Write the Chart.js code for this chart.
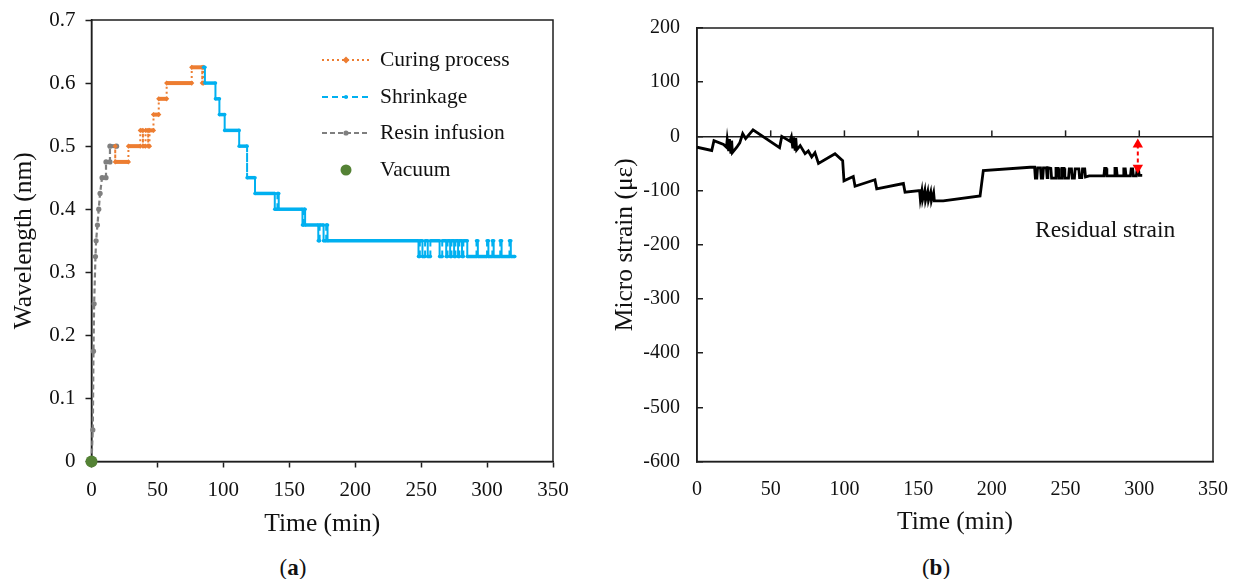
<!DOCTYPE html>
<html>
<head>
<meta charset="utf-8">
<script src="https://cdn.jsdelivr.net/npm/chart.js@4.4.1/dist/chart.umd.min.js"></script>
<style>
  html, body { margin: 0; padding: 0; background: #fff; }
  body { width: 1238px; height: 579px; position: relative; overflow: hidden;
         font-family: 'Liberation Serif', serif; color: #111; }
  .box { position: absolute; top: 0; height: 545px; }
  #boxA { left: 0; width: 580px; }
  #boxB { left: 600px; width: 638px; }
  .caption { position: absolute; top: 555px; font-size: 23px; transform: translateX(-50%); }
  #note { position: absolute; left: 1035px; top: 216px; font-size: 23.5px; }
</style>
</head>
<body>
<div class="box" id="boxA"><canvas id="chartA"></canvas></div>
<div class="box" id="boxB"><canvas id="chartB"></canvas></div>
<div class="caption" style="left:293px">(<b>a</b>)</div>
<div class="caption" style="left:936px">(<b>b</b>)</div>
<div id="note">Residual strain</div>

<script>
// (a) wavelength shift during the process
const timeTicks = [0, 50, 100, 150, 200, 250, 300, 350];
const wavelengthTicks = [0, 0.1, 0.2, 0.3, 0.4, 0.5, 0.6, 0.7];

const vacuumTime = [0];
const vacuumValue = [0];

const resinTime  = [0, 1, 1.5, 2, 3, 3.5, 4.5, 5.5, 6.5, 8, 11, 11, 14, 14, 19];
const resinValue = [0, 0.05, 0.175, 0.25, 0.325, 0.35, 0.375, 0.4, 0.425, 0.45, 0.45, 0.475, 0.475, 0.5, 0.5];

const curingTime  = [18, 18, 28, 28, 37, 37, 39, 39, 41, 41, 43, 43, 44, 44, 47, 47, 51, 51, 57, 57, 76, 76, 84, 84, 85, 85];
const curingValue = [0.5, 0.475, 0.475, 0.5, 0.5, 0.525, 0.525, 0.5, 0.5, 0.525, 0.525, 0.5, 0.5, 0.525, 0.525, 0.55,
                     0.55, 0.575, 0.575, 0.6, 0.6, 0.625, 0.625, 0.6, 0.6, 0.625];

const shrinkTime = [85, 86, 86, 94, 94, 97, 97, 101, 101, 112, 112, 118, 118, 124, 124, 139, 139, 141, 141, 142,
                    142, 160, 160, 161, 161, 162, 162, 172, 172, 173, 173, 176, 176, 178, 178, 179, 179, 248,
                    248, 249, 249, 251, 251, 253, 253, 255, 255, 257, 257, 264, 264, 266, 266, 269, 269, 270, 270,
                    272, 272, 273, 273, 275, 275, 276, 276, 278, 278, 279, 279, 281, 281, 282, 282, 285, 285,
                    292, 292, 293, 293, 300, 300, 301, 301, 304, 304, 305, 305, 310, 310, 311, 311, 317, 317,
                    318, 318, 321];
const shrinkValue = [0.625, 0.625, 0.6, 0.6, 0.575, 0.575, 0.55, 0.55, 0.525, 0.525, 0.5, 0.5, 0.45, 0.45, 0.425,
                     0.425, 0.4, 0.4, 0.425, 0.425, 0.4, 0.4, 0.375, 0.375, 0.4, 0.4, 0.375, 0.375, 0.35, 0.35,
                     0.375, 0.375, 0.35, 0.35, 0.375, 0.375, 0.35, 0.35,
                     0.325, 0.325, 0.35, 0.35, 0.325, 0.325, 0.35, 0.35, 0.325, 0.325, 0.35, 0.35, 0.325, 0.325,
                     0.35, 0.35, 0.325, 0.325, 0.35, 0.35, 0.325, 0.325, 0.35, 0.35, 0.325, 0.325, 0.35, 0.35,
                     0.325, 0.325, 0.35, 0.35, 0.325, 0.325, 0.35, 0.35, 0.325, 0.325, 0.35, 0.35, 0.325, 0.325,
                     0.35, 0.35, 0.325, 0.325, 0.35, 0.35, 0.325, 0.325, 0.35, 0.35, 0.325, 0.325, 0.35, 0.35,
                     0.325, 0.325];

// (b) micro strain
const strainTicks = [200, 100, 0, -100, -200, -300, -400, -500, -600];
const strainTime = [0, 10, 11.5, 18, 20, 20.5, 21.5, 22, 23, 23.5, 24, 27, 29, 31, 33, 38, 56, 57.5, 63, 64,
                    65, 65.5, 66.5, 67, 67.6, 70, 73.3, 75.5, 77.8, 80, 82.4, 93.6, 98.8, 99.7, 106, 107.2,
                    120.7, 121.9, 140, 141.1, 151, 151.5, 152.5, 153, 154.5, 155, 156.5, 157, 158.5, 159,
                    160.5, 161, 167, 192, 194.2, 226,
                    229, 229.5, 230.5, 231, 233, 233.5, 234.5, 235, 237, 237.5, 238, 240, 240.5, 243, 243.5,
                    245, 245.5, 247, 247.5, 249, 249.5, 252, 252.5, 254, 254.5, 256, 256.5, 259, 259.5, 261,
                    261.5, 263, 263.5, 266, 276, 276.5, 277.5, 278, 283, 283.5, 284.5, 285, 289, 289.5, 290.5,
                    291, 294, 294.5, 295.5, 296, 298, 298.5, 299.5, 300, 302];
const strainValue = [-20, -26, -8, -15, -20, -6, -27, -5, -32, -8, -30, -20, -12, 5, -4, 12, -21, 0, -9, -1,
                     -22, -2, -24, -3, -25, -17, -32, -27, -38, -30, -50, -32, -45, -82, -74, -92,
                     -80, -97, -87, -103, -100, -116, -101, -117, -100, -118, -102, -118, -103, -119,
                     -104, -119, -119, -110, -63, -57,
                     -57, -77, -77, -58, -58, -77, -77, -58, -58, -76, -58, -59, -77, -77, -59,
                     -59, -77, -77, -59, -59, -77, -77, -60, -60, -77, -77, -60, -60, -76, -76,
                     -60, -60, -75, -73, -73, -59, -59, -73, -73, -59, -59, -73, -73, -60, -60,
                     -73, -73, -60, -60, -73, -73, -62, -62, -72, -72];
const arrowTime = [299, 299];
const arrowValue = [-15, -58];

const axisColor = '#1e1e1e';
const textColor = '#111';
Chart.defaults.font.family = "'Liberation Serif', 'Times New Roman', serif";
Chart.defaults.color = textColor;

function toPoints(xs, ys) {
    return xs.map((x, i) => ({ x: x, y: ys[i] }));
}

// flat parts of the step lines are solid and thick, the jumps keep the dash
function stepSegment(dash, flatWidth, jumpWidth) {
    const flat = c => c.p0.parsed.y === c.p1.parsed.y;
    return {
        borderDash: c => flat(c) ? [] : dash,
        borderWidth: c => flat(c) ? flatWidth : jumpWidth
    };
}

// fixed axis sizes, without the extra label padding Chart.js adds round the plot
function fixX(height) {
    return s => { s.height = height; s.paddingLeft = 0; s.paddingRight = 0; };
}
function fixY(width) {
    return s => { s.width = width; s.paddingTop = 0; s.paddingBottom = 0; };
}

// box around the plot area
const framePlugin = {
    id: 'frame',
    beforeDatasetsDraw(chart) {
        const { ctx, chartArea: a } = chart;
        ctx.save();
        ctx.strokeStyle = axisColor;
        ctx.lineWidth = 1.5;
        ctx.strokeRect(a.left, a.top, a.right - a.left, a.bottom - a.top);
        ctx.restore();
    }
};

// legend of chart (a), inside the plot
const stageLegend = {
    id: 'stageLegend',
    afterDraw(chart) {
        const ctx = chart.ctx;
        const x0 = 322, x1 = 370, textX = 380;
        const rows = [60, 97, 133, 170];
        ctx.save();
        chart.data.datasets.forEach((ds, i) => {
            const y = rows[i];
            if (ds.legendDash) {
                ctx.setLineDash(ds.legendDash);
                ctx.strokeStyle = ds.borderColor;
                ctx.lineWidth = 2;
                ctx.beginPath();
                ctx.moveTo(x0, y);
                ctx.lineTo(x1, y);
                ctx.stroke();
            }
            ctx.setLineDash([]);
            ctx.fillStyle = ds.pointBackgroundColor;
            ctx.strokeStyle = ds.pointBackgroundColor;
            Chart.helpers.drawPoint(ctx, {
                pointStyle: ds.pointStyle, rotation: 0,
                radius: ds.legendRadius, borderWidth: 0
            }, (x0 + x1) / 2, y);
            ctx.fillStyle = textColor;
            ctx.font = "21.5px 'Liberation Serif'";
            ctx.textBaseline = 'middle';
            ctx.textAlign = 'left';
            ctx.fillText(ds.label, textX, y);
        });
        ctx.restore();
    }
};

// small upward ticks on the zero line of chart (b)
const zeroTicks = {
    id: 'zeroTicks',
    afterDatasetsDraw(chart) {
        const { ctx, scales: { x, y } } = chart;
        const y0 = y.getPixelForValue(0);
        ctx.save();
        ctx.strokeStyle = axisColor;
        ctx.lineWidth = 1.5;
        x.ticks.forEach(t => {
            if (t.value <= x.min || t.value >= x.max) return;
            const px = x.getPixelForValue(t.value);
            ctx.beginPath();
            ctx.moveTo(px, y0);
            ctx.lineTo(px, y0 - 6);
            ctx.stroke();
        });
        ctx.restore();
    }
};

new Chart(document.getElementById('chartA'), {
    type: 'line',
    data: {
        datasets: [
            {
                label: 'Curing process',
                data: toPoints(curingTime, curingValue),
                borderColor: '#ED7D31',
                pointBackgroundColor: '#ED7D31',
                pointBorderWidth: 0,
                pointStyle: 'rectRot',
                pointRadius: 2.6,
                segment: stepSegment([2, 3], 4, 2),
                legendDash: [2, 3], legendRadius: 3.5,
                order: 2, clip: false
            },
            {
                label: 'Shrinkage',
                data: toPoints(shrinkTime, shrinkValue),
                borderColor: '#00B0F0',
                pointBackgroundColor: '#00B0F0',
                pointBorderWidth: 0,
                pointStyle: 'circle',
                pointRadius: 1.8,
                segment: stepSegment([6, 4], 3.5, 2),
                legendDash: [6, 4], legendRadius: 2,
                order: 1, clip: false
            },
            {
                label: 'Resin infusion',
                data: toPoints(resinTime, resinValue),
                borderColor: '#7F7F7F',
                pointBackgroundColor: '#7F7F7F',
                pointBorderWidth: 0,
                pointStyle: 'circle',
                pointRadius: 2.6,
                segment: stepSegment([5, 3], 4, 2.2),
                legendDash: [5, 3], legendRadius: 2.6,
                order: 3, clip: false
            },
            {
                label: 'Vacuum',
                data: toPoints(vacuumTime, vacuumValue),
                showLine: false,
                borderColor: '#548235',
                pointBackgroundColor: '#548235',
                pointBorderWidth: 0,
                pointStyle: 'circle',
                pointRadius: 6,
                legendRadius: 5.5,
                order: 0, clip: false
            }
        ]
    },
    options: {
        responsive: true,
        maintainAspectRatio: false,
        animation: false,
        events: [],
        layout: { padding: { left: 0, top: 20, right: 27, bottom: 0 } },
        plugins: { legend: { display: false }, tooltip: { enabled: false } },
        scales: {
            x: {
                type: 'linear', min: 0, max: 350,
                afterBuildTicks: s => { s.ticks = timeTicks.map(v => ({ value: v })); },
                afterFit: fixX(83.5),
                ticks: { padding: 10, font: { size: 21 }, color: textColor, maxRotation: 0, autoSkip: false,
                         callback: v => String(v) },
                grid: { drawOnChartArea: false, tickLength: 6, tickColor: axisColor, tickWidth: 1.5 },
                border: { color: axisColor, width: 1.5 },
                title: { display: true, text: 'Time (min)', font: { size: 25.5 }, color: textColor,
                         padding: { top: 0, bottom: 5 } }
            },
            y: {
                min: 0, max: 0.7,
                afterBuildTicks: s => { s.ticks = wavelengthTicks.map(v => ({ value: v })); },
                afterFit: fixY(91.5),
                ticks: { padding: 10, font: { size: 21 }, color: textColor, callback: v => String(v) },
                grid: { drawOnChartArea: false, tickLength: 6, tickColor: axisColor, tickWidth: 1.5 },
                border: { color: axisColor, width: 1.5 },
                title: { display: true, text: 'Wavelength (nm)', font: { size: 25.5 }, color: textColor,
                         padding: { top: 9, bottom: 0 } }
            }
        }
    },
    plugins: [framePlugin, stageLegend]
});

new Chart(document.getElementById('chartB'), {
    type: 'line',
    data: {
        datasets: [
            {
                label: 'Micro strain',
                data: toPoints(strainTime, strainValue),
                borderColor: '#000',
                borderWidth: 2.8,
                borderJoinStyle: 'miter',
                pointRadius: 0,
                order: 1
            },
            {
                label: 'Residual strain',
                data: toPoints(arrowTime, arrowValue),
                borderColor: '#FF0000',
                borderWidth: 2,
                borderDash: [4, 3],
                pointStyle: 'triangle',
                pointRotation: [0, 180],
                pointRadius: 6,
                pointBackgroundColor: '#FF0000',
                pointBorderWidth: 0,
                order: 0, clip: false
            }
        ]
    },
    options: {
        responsive: true,
        maintainAspectRatio: false,
        animation: false,
        events: [],
        layout: { padding: { left: 0, top: 28, right: 25, bottom: 0 } },
        plugins: { legend: { display: false }, tooltip: { enabled: false } },
        scales: {
            x: {
                type: 'linear', min: 0, max: 350,
                afterBuildTicks: s => { s.ticks = timeTicks.map(v => ({ value: v })); },
                afterFit: fixX(83.5),
                ticks: { padding: 16.5, font: { size: 20 }, color: textColor, maxRotation: 0, autoSkip: false,
                         callback: v => String(v) },
                grid: { drawOnChartArea: false, drawTicks: false },
                border: { color: axisColor, width: 1.5 },
                title: { display: true, text: 'Time (min)', font: { size: 25.5 }, color: textColor,
                         padding: { top: 0, bottom: 7 } }
            },
            y: {
                min: -600, max: 200,
                afterBuildTicks: s => { s.ticks = strainTicks.map(v => ({ value: v })); },
                afterFit: fixY(97),
                ticks: { padding: 23, font: { size: 20 }, color: textColor, callback: v => String(v) },
                grid: {
                    drawOnChartArea: true,
                    color: c => (c.tick && c.tick.value === 0) ? axisColor : 'rgba(0,0,0,0)',
                    lineWidth: 1.5,
                    tickLength: -6, tickColor: axisColor, tickWidth: 1.5
                },
                border: { color: axisColor, width: 1.5 },
                title: { display: true, text: 'Micro strain (με)', font: { size: 25.5 }, color: textColor,
                         padding: { top: 9.5, bottom: 0 } }
            }
        }
    },
    plugins: [framePlugin, zeroTicks]
});
</script>
</body>
</html>
